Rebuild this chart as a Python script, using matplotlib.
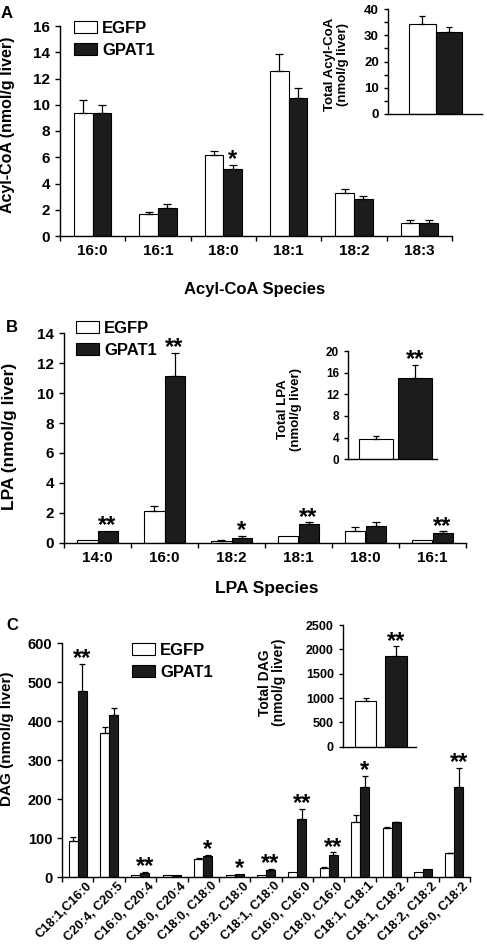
import numpy as np
import matplotlib
matplotlib.use('Agg')
import matplotlib.pyplot as plt
import matplotlib.transforms as mtrans
from matplotlib.patches import Patch

plt.rcParams['font.family'] = ['Liberation Sans', 'DejaVu Sans']
plt.rcParams['font.weight'] = 'bold'
plt.rcParams['axes.labelweight'] = 'bold'
plt.rcParams['axes.linewidth'] = 1.0

# ---- panel A: acyl-CoA ----
acyl_species = ["16:0", "16:1", "18:0", "18:1", "18:2", "18:3"]
acyl_egfp = [9.35, 1.65, 6.15, 12.6, 3.3, 1.0]
acyl_egfp_err = [1.0, 0.15, 0.33, 1.3, 0.28, 0.25]
acyl_gpat = [9.4, 2.15, 5.1, 10.55, 2.85, 1.0]
acyl_gpat_err = [0.55, 0.28, 0.3, 0.75, 0.2, 0.25]
acyl_stars = ["", "", "*", "", "", ""]
acyl_total = [34.3, 31.4]
acyl_total_err = [3.0, 1.6]
acyl_total_stars = ["", ""]

# ---- panel B: LPA ----
lpa_species = ["14:0", "16:0", "18:2", "18:1", "18:0", "16:1"]
lpa_egfp = [0.18, 2.12, 0.11, 0.47, 0.78, 0.18]
lpa_egfp_err = [0, 0.33, 0.07, 0, 0.29, 0]
lpa_gpat = [0.78, 11.17, 0.33, 1.23, 1.09, 0.62]
lpa_gpat_err = [0, 1.52, 0.14, 0.13, 0.29, 0.14]
lpa_stars = ["**", "**", "*", "**", "", "**"]
lpa_total = [3.75, 15.1]
lpa_total_err = [0.6, 2.3]
lpa_total_stars = ["", "**"]

# ---- panel C: DAG ----
dag_species = ["C18:1,C16:0", "C20:4, C20:5", "C16:0, C20:4", "C18:0, C20:4",
               "C18:0, C18:0", "C18:2, C18:0", "C18:1, C18:0", "C16:0, C16:0",
               "C18:0, C16:0", "C18:1, C18:1", "C18:1, C18:2", "C18:2, C18:2",
               "C16:0, C18:2"]
dag_egfp = [92, 369, 6, 6, 46, 6, 6, 14, 23, 141, 126, 14, 62]
dag_egfp_err = [11, 16, 0, 0, 2.5, 0, 0, 0, 2.5, 20, 4, 0, 1.5]
dag_gpat = [478, 415, 12, 5, 55, 9.5, 20, 149, 56, 231, 141, 20.5, 231]
dag_gpat_err = [69, 20, 2.5, 0, 2, 0, 2.5, 27, 8, 30, 1.5, 0, 49]
dag_stars = ["**", "", "**", "", "*", "*", "**", "**", "**", "*", "", "", "**"]
dag_total = [945, 1854]
dag_total_err = [48, 212]
dag_total_stars = ["", "**"]

BLACK = '#1c1c1c'
W, H = 487, 950


def box(l, t, r, b):
    # pixel box -> figure fraction
    return [l / W, 1 - b / H, (r - l) / W, (b - t) / H]


def err_bar(ax, x, y, e, cap=3):
    x = np.asarray(x); y = np.asarray(y, float); e = np.asarray(e, float)
    m = e > 0
    if m.any():
        ax.errorbar(x[m], y[m], yerr=[np.zeros(m.sum()), e[m]], fmt='none',
                    ecolor='black', elinewidth=0.9, capsize=cap, capthick=0.9)


def put_stars(ax, x, y, e, stars, size=17):
    for xi, yi, ei, s in zip(x, y, e, stars):
        if s:
            ax.annotate(s, (xi, yi + ei), xytext=(0, -1), textcoords='offset points',
                        ha='center', va='baseline', fontsize=size, fontweight='bold')


def main_panel(ax, cats, egfp, egfp_err, gpat, gpat_err, stars, w, ylim, yticks,
               fs=11, cap=3):
    n = len(cats)
    x = np.arange(n)
    ax.bar(x - w / 2, egfp, w, color='white', edgecolor='black', linewidth=0.8)
    ax.bar(x + w / 2, gpat, w, color=BLACK, edgecolor='black', linewidth=0.8)
    err_bar(ax, x - w / 2, egfp, egfp_err, cap)
    err_bar(ax, x + w / 2, gpat, gpat_err, cap)
    put_stars(ax, x + w / 2, gpat, gpat_err, stars)
    ax.set_xlim(-0.5, n - 0.5)
    ax.set_ylim(*ylim)
    ax.set_yticks(yticks)
    ax.set_xticks(np.arange(n + 1) - 0.5)
    ax.set_xticklabels([])
    ax.set_xticks(x, minor=True)
    ax.tick_params(axis='x', which='minor', length=0)
    ax.tick_params(which='major', length=3.5, width=1, labelsize=fs)
    for s in ['top', 'right']:
        ax.spines[s].set_visible(False)
    return x


def inset_panel(ax, vals, errs, stars, w, xlim, ylim, yticks, fs=9, minor=None):
    x = np.arange(2)
    ax.bar(x, vals, w, color=['white', BLACK], edgecolor='black', linewidth=0.8)
    err_bar(ax, x, vals, errs, 2.5)
    put_stars(ax, x, vals, errs, stars)
    ax.set_xlim(*xlim)
    ax.set_ylim(*ylim)
    ax.set_yticks(yticks)
    if minor is not None:
        ax.set_yticks(minor, minor=True)
        ax.tick_params(axis='y', which='minor', length=3, width=1)
    ax.set_xticks([])
    ax.tick_params(which='major', length=3, width=1, labelsize=fs)
    for s in ['top', 'right']:
        ax.spines[s].set_visible(False)


def legend(ax, loc_px):
    handles = [Patch(facecolor='white', edgecolor='black', linewidth=0.8),
               Patch(facecolor=BLACK, edgecolor='black', linewidth=0.8)]
    ax.legend(handles, ['EGFP', 'GPAT1'], loc='upper left',
              bbox_to_anchor=(loc_px[0] / W, 1 - loc_px[1] / H),
              bbox_transform=fig.transFigure, frameon=False, fontsize=12,
              handlelength=1.35, handleheight=0.75, handletextpad=0.35,
              labelspacing=0.4, borderpad=0, borderaxespad=0)


fig = plt.figure(figsize=(4.87, 9.5), dpi=100)

# A
axA = fig.add_axes(box(60, 26, 452, 236))
xA = main_panel(axA, acyl_species, acyl_egfp, acyl_egfp_err, acyl_gpat, acyl_gpat_err,
                acyl_stars, 0.285, (0, 16), range(0, 17, 2))
axA.set_xticklabels(acyl_species, minor=True, fontsize=11)
axA.tick_params(axis='x', which='minor', pad=6)
axA.set_ylabel('Acyl-CoA (nmol/g liver)', fontsize=11.5)
axA.yaxis.set_label_coords(-0.115, 0.53)
axA.set_xlabel('Acyl-CoA Species', fontsize=12)
axA.xaxis.set_label_coords(0.496, -0.22)
legend(axA, (74, 21))
insA = fig.add_axes(box(388, 9, 482, 114))
inset_panel(insA, acyl_total, acyl_total_err, acyl_total_stars, 1.0, (-1.29, 2.25),
            (0, 40), range(0, 41, 10), fs=9.5, minor=range(5, 40, 10))
insA.set_ylabel('Total Acyl-CoA\n(nmol/g liver)', fontsize=9.5, linespacing=1.05)
insA.yaxis.set_label_coords(-0.42, 0.47)
fig.text(7 / W, 1 - 13 / H, 'A', fontsize=12, fontweight='bold', ha='center', va='center')

# B
axB = fig.add_axes(box(64, 333.3, 466, 542.7))
main_panel(axB, lpa_species, lpa_egfp, lpa_egfp_err, lpa_gpat, lpa_gpat_err,
           lpa_stars, 0.3, (0, 14), range(0, 15, 2))
axB.set_xticklabels(lpa_species, minor=True, fontsize=11)
axB.tick_params(axis='x', which='minor', pad=6)
axB.set_ylabel('LPA (nmol/g liver)', fontsize=12.5)
axB.yaxis.set_label_coords(-0.117, 0.51)
axB.set_xlabel('LPA Species', fontsize=12.5)
axB.xaxis.set_label_coords(0.504, -0.185)
legend(axB, (76, 321))
insB = fig.add_axes(box(348, 351, 437, 459.3))
inset_panel(insB, lpa_total, lpa_total_err, lpa_total_stars, 0.88, (-0.73, 1.58),
            (0, 20), range(0, 21, 4), fs=8.5)
insB.set_ylabel('Total LPA\n(nmol/g liver)', fontsize=9.5, linespacing=1.05)
insB.yaxis.set_label_coords(-0.52, 0.46)
fig.text(12 / W, 1 - 328 / H, 'B', fontsize=12, fontweight='bold', ha='center', va='center')

# C
axC = fig.add_axes(box(62, 643.3, 470, 877.3))
main_panel(axC, dag_species, dag_egfp, dag_egfp_err, dag_gpat, dag_gpat_err,
           dag_stars, 0.287, (0, 600), range(0, 601, 100), fs=10.5, cap=2.5)
axC.set_xticklabels(dag_species, minor=True, fontsize=9.3, rotation=45,
                    ha='right', rotation_mode='anchor')
axC.tick_params(axis='x', which='minor', pad=2)
shift = mtrans.ScaledTranslation(8 / 100, 0, fig.dpi_scale_trans)
for lab in axC.get_xticklabels(minor=True):
    lab.set_transform(lab.get_transform() + shift)
axC.set_ylabel('DAG (nmol/g liver)', fontsize=11)
axC.yaxis.set_label_coords(-0.118, 0.59)
legend(axC, (132, 643))
insC = fig.add_axes(box(343, 625, 416, 746.7))
inset_panel(insC, dag_total, dag_total_err, dag_total_stars, 0.73, (-0.75, 1.68),
            (0, 2500), range(0, 2501, 500), fs=9)
insC.set_ylabel('Total DAG\n(nmol/g liver)', fontsize=10, linespacing=1.05)
insC.yaxis.set_label_coords(-0.78, 0.53)
fig.text(12 / W, 1 - 625 / H, 'C', fontsize=12, fontweight='bold', ha='center', va='center')

fig.savefig('out.png', dpi=100)
